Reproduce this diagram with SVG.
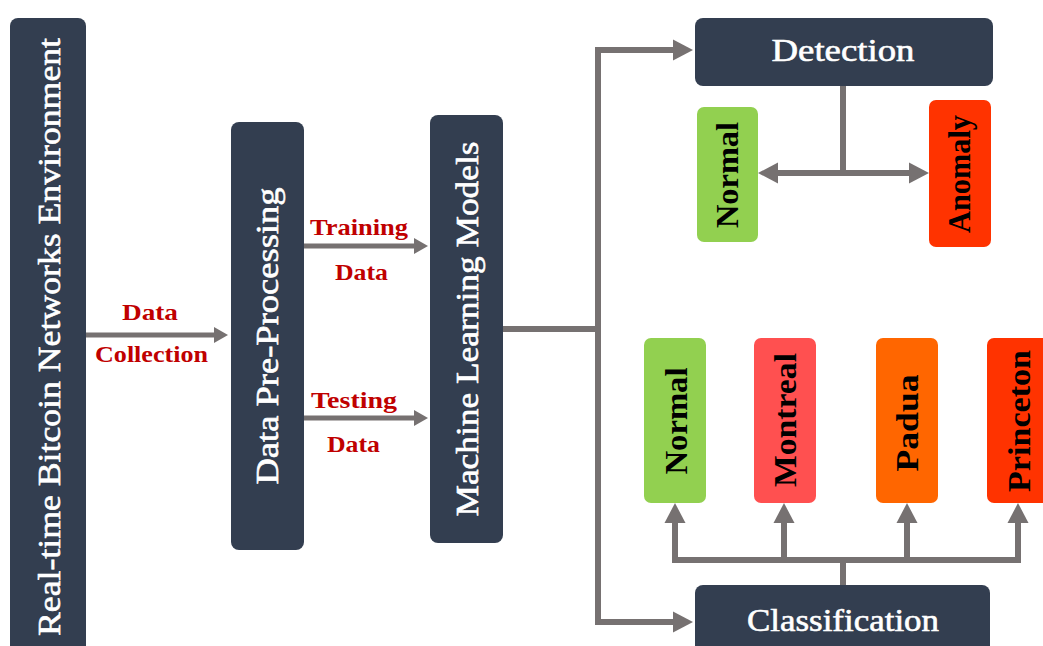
<svg xmlns="http://www.w3.org/2000/svg" width="1043" height="646" viewBox="0 0 1043 646">
  <style>
    .dark { fill: #333e50; }
    .title { font-family: "Liberation Serif", "DejaVu Serif", serif; fill: #ffffff; stroke: #ffffff; stroke-width: 0.6px; font-size: 32px; text-anchor: middle; }
    .lbl { font-family: "Liberation Serif", "DejaVu Serif", serif; fill: #c00000; font-size: 24px; font-weight: bold; text-anchor: middle; }
    .cls { font-family: "Liberation Serif", "DejaVu Serif", serif; fill: #000000; font-size: 31px; font-weight: bold; text-anchor: middle; }
    .wire { fill: none; stroke: #767171; stroke-linejoin: miter; }
    .thin { stroke-width: 5; }
    .thick { stroke-width: 6; }
  </style>
  <defs>
    <marker id="ah-s" markerUnits="userSpaceOnUse" markerWidth="14" markerHeight="16" refX="0" refY="8" orient="auto" overflow="visible">
      <path d="M0,0 L14,8 L0,16 z" fill="#767171"/>
    </marker>
    <marker id="ah-l" markerUnits="userSpaceOnUse" markerWidth="20" markerHeight="21" refX="0" refY="10.5" orient="auto-start-reverse" overflow="visible">
      <path d="M0,0 L20,10.5 L0,21 z" fill="#767171"/>
    </marker>
  </defs>

  <rect width="1043" height="646" fill="#ffffff"/>

  <!-- connectors -->
  <g id="connectors">
    <path class="wire thin" d="M86,335 H214" marker-end="url(#ah-s)"/>
    <path class="wire thin" d="M304,246 H414" marker-end="url(#ah-s)"/>
    <path class="wire thin" d="M304,418 H414" marker-end="url(#ah-s)"/>
    <path class="wire thick" d="M503,329 H598"/>
    <path class="wire thick" d="M673,50 H598 V622 H673" marker-start="url(#ah-l)" marker-end="url(#ah-l)"/>
    <path class="wire thick" d="M843,86 V173"/>
    <path class="wire thick" d="M778,173 H909" marker-start="url(#ah-l)" marker-end="url(#ah-l)"/>
    <path class="wire thick" d="M843,585 V560"/>
    <path class="wire thick" d="M675,523 V560 H1018 V523" marker-start="url(#ah-l)" marker-end="url(#ah-l)"/>
    <path class="wire thick" d="M784,560 V523" marker-end="url(#ah-l)"/>
    <path class="wire thick" d="M907,560 V523" marker-end="url(#ah-l)"/>
  </g>

  <!-- edge labels -->
  <g id="edge-labels">
    <text class="lbl" x="150" y="320" textLength="56" lengthAdjust="spacingAndGlyphs">Data</text>
    <text class="lbl" x="151.5" y="362" textLength="113" lengthAdjust="spacingAndGlyphs">Collection</text>
    <text class="lbl" x="359" y="235" textLength="98" lengthAdjust="spacingAndGlyphs">Training</text>
    <text class="lbl" x="361.5" y="280" textLength="53" lengthAdjust="spacingAndGlyphs">Data</text>
    <text class="lbl" x="354" y="408" textLength="86" lengthAdjust="spacingAndGlyphs">Testing</text>
    <text class="lbl" x="353.5" y="452" textLength="53" lengthAdjust="spacingAndGlyphs">Data</text>
  </g>

  <!-- pipeline stages -->
  <g id="environment">
    <rect class="dark" x="10" y="18" width="76" height="650" rx="8"/>
    <text class="title" transform="translate(60,337) rotate(-90)" textLength="598" lengthAdjust="spacingAndGlyphs">Real-time Bitcoin Networks Environment</text>
  </g>
  <g id="preprocessing">
    <rect class="dark" x="231" y="122" width="73" height="428" rx="8"/>
    <text class="title" transform="translate(278,336) rotate(-90)" textLength="297" lengthAdjust="spacingAndGlyphs">Data Pre-Processing</text>
  </g>
  <g id="ml-models">
    <rect class="dark" x="430" y="115" width="73" height="428" rx="8"/>
    <text class="title" transform="translate(478,329) rotate(-90)" textLength="375" lengthAdjust="spacingAndGlyphs">Machine Learning Models</text>
  </g>

  <!-- detection branch -->
  <g id="detection">
    <rect class="dark" x="695" y="18" width="298" height="68" rx="8"/>
    <text class="title" x="843" y="61" textLength="143" lengthAdjust="spacingAndGlyphs">Detection</text>
  </g>
  <g id="det-normal">
    <rect x="697" y="107" width="61" height="135" rx="7" fill="#92d050"/>
    <text class="cls" transform="translate(738,175) rotate(-90)" textLength="106" lengthAdjust="spacingAndGlyphs">Normal</text>
  </g>
  <g id="det-anomaly">
    <rect x="929" y="100" width="62" height="147" rx="7" fill="#ff3300"/>
    <text class="cls" transform="translate(970,174) rotate(-90)" textLength="118" lengthAdjust="spacingAndGlyphs">Anomaly</text>
  </g>

  <!-- classification branch -->
  <g id="classification">
    <rect class="dark" x="695" y="585" width="295" height="80" rx="8"/>
    <text class="title" x="843" y="631" textLength="192" lengthAdjust="spacingAndGlyphs">Classification</text>
  </g>
  <g id="cls-normal">
    <rect x="644" y="338" width="62" height="165" rx="7" fill="#92d050"/>
    <text class="cls" transform="translate(687,421) rotate(-90)" textLength="107" lengthAdjust="spacingAndGlyphs">Normal</text>
  </g>
  <g id="cls-montreal">
    <rect x="754" y="338" width="62" height="165" rx="7" fill="#ff5050"/>
    <text class="cls" transform="translate(796,420) rotate(-90)" textLength="134" lengthAdjust="spacingAndGlyphs">Montreal</text>
  </g>
  <g id="cls-padua">
    <rect x="876" y="338" width="62" height="165" rx="7" fill="#ff6600"/>
    <text class="cls" transform="translate(918,423) rotate(-90)" textLength="97" lengthAdjust="spacingAndGlyphs">Padua</text>
  </g>
  <g id="cls-princeton">
    <rect x="987" y="338" width="62" height="165" rx="7" fill="#ff3300"/>
    <text class="cls" transform="translate(1030,421) rotate(-90)" textLength="142" lengthAdjust="spacingAndGlyphs">Princeton</text>
  </g>
</svg>
